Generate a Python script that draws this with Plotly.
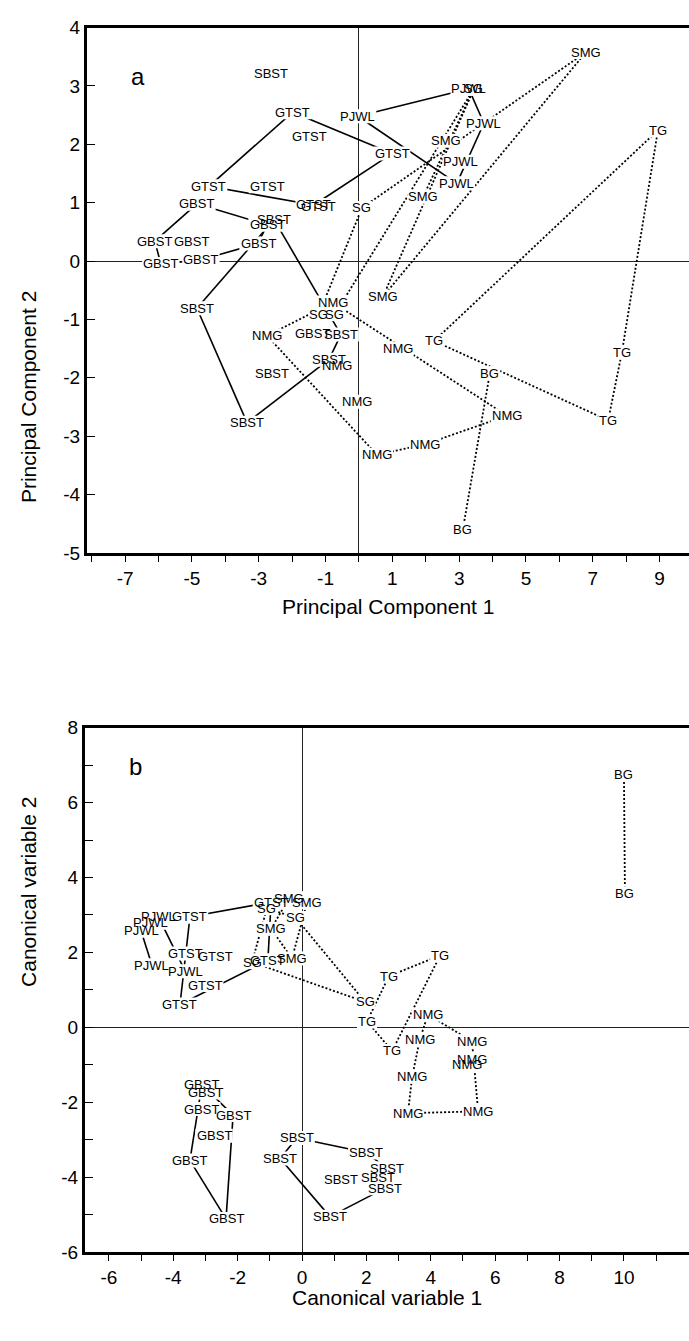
import plotly.graph_objects as go

W, H = 689, 1341

# ---------------- Panel a : principal components ----------------
a_labels = ["SBST", "SBST", "SBST", "SBST", "SBST", "SBST", "SBST",
            "GTST", "GTST", "GTST", "GTST", "GTST", "GTST", "GTST",
            "PJWL", "PJWL", "PJWL", "PJWL", "PJWL",
            "GBST", "GBST", "GBST", "GBST", "GBST", "GBST", "GBST", "GBST",
            "SG", "SG", "SG", "SG",
            "SMG", "SMG", "SMG", "SMG",
            "NMG", "NMG", "NMG", "NMG", "NMG", "NMG", "NMG", "NMG",
            "TG", "TG", "TG", "TG",
            "BG", "BG"]
a_x = [-2.63, -4.85, -0.54, -0.90, -2.60, -3.35, -2.54,
       -1.98, -1.47, -4.49, -2.75, -1.35, -1.20, 0.99,
       -0.03, 3.29, 3.74, 3.05, 2.93,
       -4.85, -2.75, -6.11, -5.00, -3.02, -5.93, -4.73, -1.38,
       3.44, 0.09, -1.20, -0.72,
       6.80, 2.60, 1.92, 0.72,
       -0.78, -2.75, 1.17, -0.66, -0.06, 4.43, 1.98, 0.54,
       8.95, 2.25, 7.87, 7.46,
       3.92, 3.11]
a_y = [3.22, -0.81, -1.26, -1.69, -1.92, -2.77, 0.71,
       2.55, 2.14, 1.28, 1.28, 0.96, 0.94, 1.84,
       2.48, 2.95, 2.36, 1.70, 1.33,
       0.98, 0.62, 0.34, 0.34, 0.30, -0.05, 0.02, -1.25,
       2.95, 0.91, -0.91, -0.91,
       3.58, 2.06, 1.10, -0.61,
       -0.71, -1.28, -1.50, -1.79, -2.41, -2.65, -3.14, -3.32,
       2.24, -1.37, -1.57, -2.73,
       -1.92, -4.60]
a_solid = [(14, 15), (15, 16), (16, 18), (18, 14),
           (7, 13), (13, 11), (11, 9), (9, 7),
           (19, 20), (20, 23), (23, 25), (25, 24), (24, 21), (21, 19),
           (6, 2), (2, 3), (3, 5), (5, 1), (1, 6)]
a_dotted = [(31, 28), (31, 34), (27, 33), (27, 34), (27, 30), (28, 29),
            (35, 40), (40, 41), (41, 42), (42, 36), (36, 35),
            (43, 44), (44, 46), (46, 45), (45, 43),
            (47, 48)]
a_xticks = [-7, -5, -3, -1, 1, 3, 5, 7, 9]
a_yticks = [-5, -4, -3, -2, -1, 0, 1, 2, 3, 4]

# ---------------- Panel b : canonical variables ----------------
b_labels = ["PJWL", "PJWL", "PJWL", "PJWL", "PJWL",
            "GTST", "GTST", "GTST", "GTST", "GTST", "GTST", "GTST",
            "SMG", "SMG", "SMG", "SMG",
            "SG", "SG", "SG", "SG",
            "TG", "TG", "TG", "TG",
            "NMG", "NMG", "NMG", "NMG", "NMG", "NMG", "NMG", "NMG",
            "BG", "BG",
            "GBST", "GBST", "GBST", "GBST", "GBST", "GBST", "GBST",
            "SBST", "SBST", "SBST", "SBST", "SBST", "SBST", "SBST", "SBST"]
b_x = [-4.47, -4.72, -5.00, -4.66, -3.63,
       -3.48, -3.63, -2.70, -3.01, -3.79, -0.96, -1.06,
       -0.40, 0.16, -0.96, -0.31,
       -1.09, -0.19, -1.55, 1.96,
       4.29, 2.70, 2.02, 2.80,
       3.91, 3.66, 5.28, 5.28, 5.12, 3.42, 3.29, 5.47,
       10.00, 10.03,
       -3.11, -3.01, -3.11, -2.14, -2.73, -3.48, -2.36,
       -0.16, -0.68, 1.99, 2.64, 1.21, 2.36, 2.58, 0.87]
b_y = [2.97, 2.79, 2.58, 1.66, 1.50,
       2.95, 1.97, 1.89, 1.13, 0.61, 3.34, 1.79,
       3.45, 3.34, 2.63, 1.84,
       3.18, 2.92, 1.74, 0.68,
       1.92, 1.37, 0.16, -0.63,
       0.34, -0.32, -0.37, -0.87, -1.00, -1.32, -2.29, -2.24,
       6.76, 3.58,
       -1.53, -1.74, -2.18, -2.34, -2.89, -3.55, -5.11,
       -2.95, -3.50, -3.34, -3.76, -4.05, -4.00, -4.29, -5.05]
b_solid = [(0, 4), (4, 3), (3, 2), (2, 0),
           (5, 10), (10, 11), (11, 9), (9, 5),
           (34, 37), (37, 40), (40, 39), (39, 34),
           (41, 43), (43, 44), (44, 47), (47, 48), (48, 42), (42, 41)]
b_dotted = [(16, 17), (17, 19), (19, 18), (18, 16),
            (12, 13), (13, 15), (15, 14), (14, 12),
            (21, 20), (20, 23), (23, 22), (22, 21),
            (24, 26), (26, 31), (31, 30), (30, 29), (29, 25), (25, 24),
            (32, 33)]
b_xticks = [-6, -4, -2, 0, 2, 4, 6, 8, 10]
b_yticks = [-6, -4, -2, 0, 2, 4, 6, 8]


def seg_xy(xs, ys, pairs):
    sx, sy = [], []
    for i, j in pairs:
        sx += [xs[i], xs[j], None]
        sy += [ys[i], ys[j], None]
    return sx, sy


def py(p):
    return 1 - p / H


def px(p):
    return p / W


FONT = "Liberation Sans, Arial, Helvetica, sans-serif"
LABEL_SIZE = 13
# approximate Arial advance widths (em) used to size the white gaps behind labels
CHAR_EM = {"S": 0.667, "B": 0.667, "T": 0.611, "G": 0.778, "P": 0.667, "J": 0.5,
           "W": 0.944, "L": 0.556, "M": 0.833, "N": 0.722}


def label_width(t):
    return sum(CHAR_EM.get(c, 0.6) for c in t) * LABEL_SIZE + 2


fig = go.Figure()
texts, shapes = [], []
label_font = dict(family=FONT, size=LABEL_SIZE, color="black")

for xs, ys, labs, solid, dotted, xa, ya in [
        (a_x, a_y, a_labels, a_solid, a_dotted, "x", "y"),
        (b_x, b_y, b_labels, b_solid, b_dotted, "x2", "y2")]:
    sx, sy = seg_xy(xs, ys, solid)
    fig.add_trace(go.Scatter(x=sx, y=sy, mode="lines", xaxis=xa, yaxis=ya,
                             line=dict(color="black", width=1.6),
                             hoverinfo="skip", showlegend=False))
    dx, dy = seg_xy(xs, ys, dotted)
    fig.add_trace(go.Scatter(x=dx, y=dy, mode="lines", xaxis=xa, yaxis=ya,
                             line=dict(color="black", width=1.8, dash="2px,2px"),
                             hoverinfo="skip", showlegend=False))
    for t, x, y in zip(labs, xs, ys):
        w = label_width(t)
        # white box that breaks the lines where they meet a label
        shapes.append(dict(type="rect", xref=xa, yref=ya, layer="above",
                           xsizemode="pixel", ysizemode="pixel", xanchor=x, yanchor=y,
                           x0=-w / 2, x1=w / 2, y0=-7, y1=7,
                           fillcolor="white", line=dict(width=0)))
        texts.append(dict(text=t, x=x, y=y, xref=xa, yref=ya, showarrow=False,
                          font=label_font))

tick_font = dict(family=FONT, size=19, color="black")
title_font = dict(family=FONT, size=21, color="black")

common_x = dict(showgrid=False, showline=True, linecolor="black", linewidth=3, mirror=True,
                ticks="outside", ticklen=6, tickwidth=1.2, tickcolor="black",
                zeroline=True, zerolinecolor="#222", zerolinewidth=1, tickfont=tick_font)
common_y = dict(showgrid=False, showline=True, linecolor="black", linewidth=3, mirror=False,
                ticks="inside", ticklen=8, tickwidth=1.2, tickcolor="black",
                zeroline=True, zerolinecolor="#222", zerolinewidth=1, tickfont=tick_font)


def txt(vals):
    return [str(v) for v in vals]


fig.update_layout(
    width=W, height=H, margin=dict(l=0, r=0, t=0, b=0),
    paper_bgcolor="white", plot_bgcolor="white",
    xaxis=dict(common_x, domain=[px(87), 1], range=[-8.14, 9.88], anchor="y",
               tickvals=a_xticks, ticktext=txt(a_xticks),
               minor=dict(tickvals=[-8, -6, -4, -2, 0, 2, 4, 6, 8], ticks="outside",
                          ticklen=6, tickcolor="black")),
    yaxis=dict(common_y, domain=[py(551.5), py(17.8)], range=[-5, 4], anchor="x",
               tickvals=a_yticks, ticktext=txt(a_yticks)),
    xaxis2=dict(common_x, domain=[px(85), 1], range=[-6.74, 12.02], anchor="y2",
                tickvals=b_xticks, ticktext=txt(b_xticks),
                minor=dict(tickvals=[-5, -3, -1, 1, 3, 5, 7, 9, 11], ticks="outside",
                           ticklen=6, tickcolor="black")),
    yaxis2=dict(common_y, domain=[py(1262), py(729)], range=[-6, 8], anchor="x2",
                tickvals=b_yticks, ticktext=txt(b_yticks),
                minor=dict(tickvals=[-5, -3, -1, 1, 3, 5, 7], ticks="inside",
                           ticklen=8, tickcolor="black")),
)

others = [
    dict(text="a", x=px(129), y=py(52), xref="paper", yref="paper", showarrow=False,
         font=dict(family=FONT, size=24, color="black")),
    dict(text="b", x=px(127), y=py(769), xref="paper", yref="paper", showarrow=False,
         font=dict(family=FONT, size=24, color="black")),
    dict(text="Principal Component 1", x=px(388), y=py(606), xref="paper", yref="paper",
         showarrow=False, font=title_font),
    dict(text="Principal Component 2", x=px(15), y=py(284), xref="paper", yref="paper",
         showarrow=False, textangle=-90, font=title_font),
    dict(text="Canonical variable 1", x=px(387), y=py(1322), xref="paper", yref="paper",
         showarrow=False, font=title_font),
    dict(text="Canonical variable 2", x=px(15), y=py(995), xref="paper", yref="paper",
         showarrow=False, textangle=-90, font=title_font),
]
fig.update_layout(annotations=texts + others, shapes=shapes)

fig.write_html("out.html", config={"displayModeBar": False},
               post_script="document.body.style.margin='0px';")
